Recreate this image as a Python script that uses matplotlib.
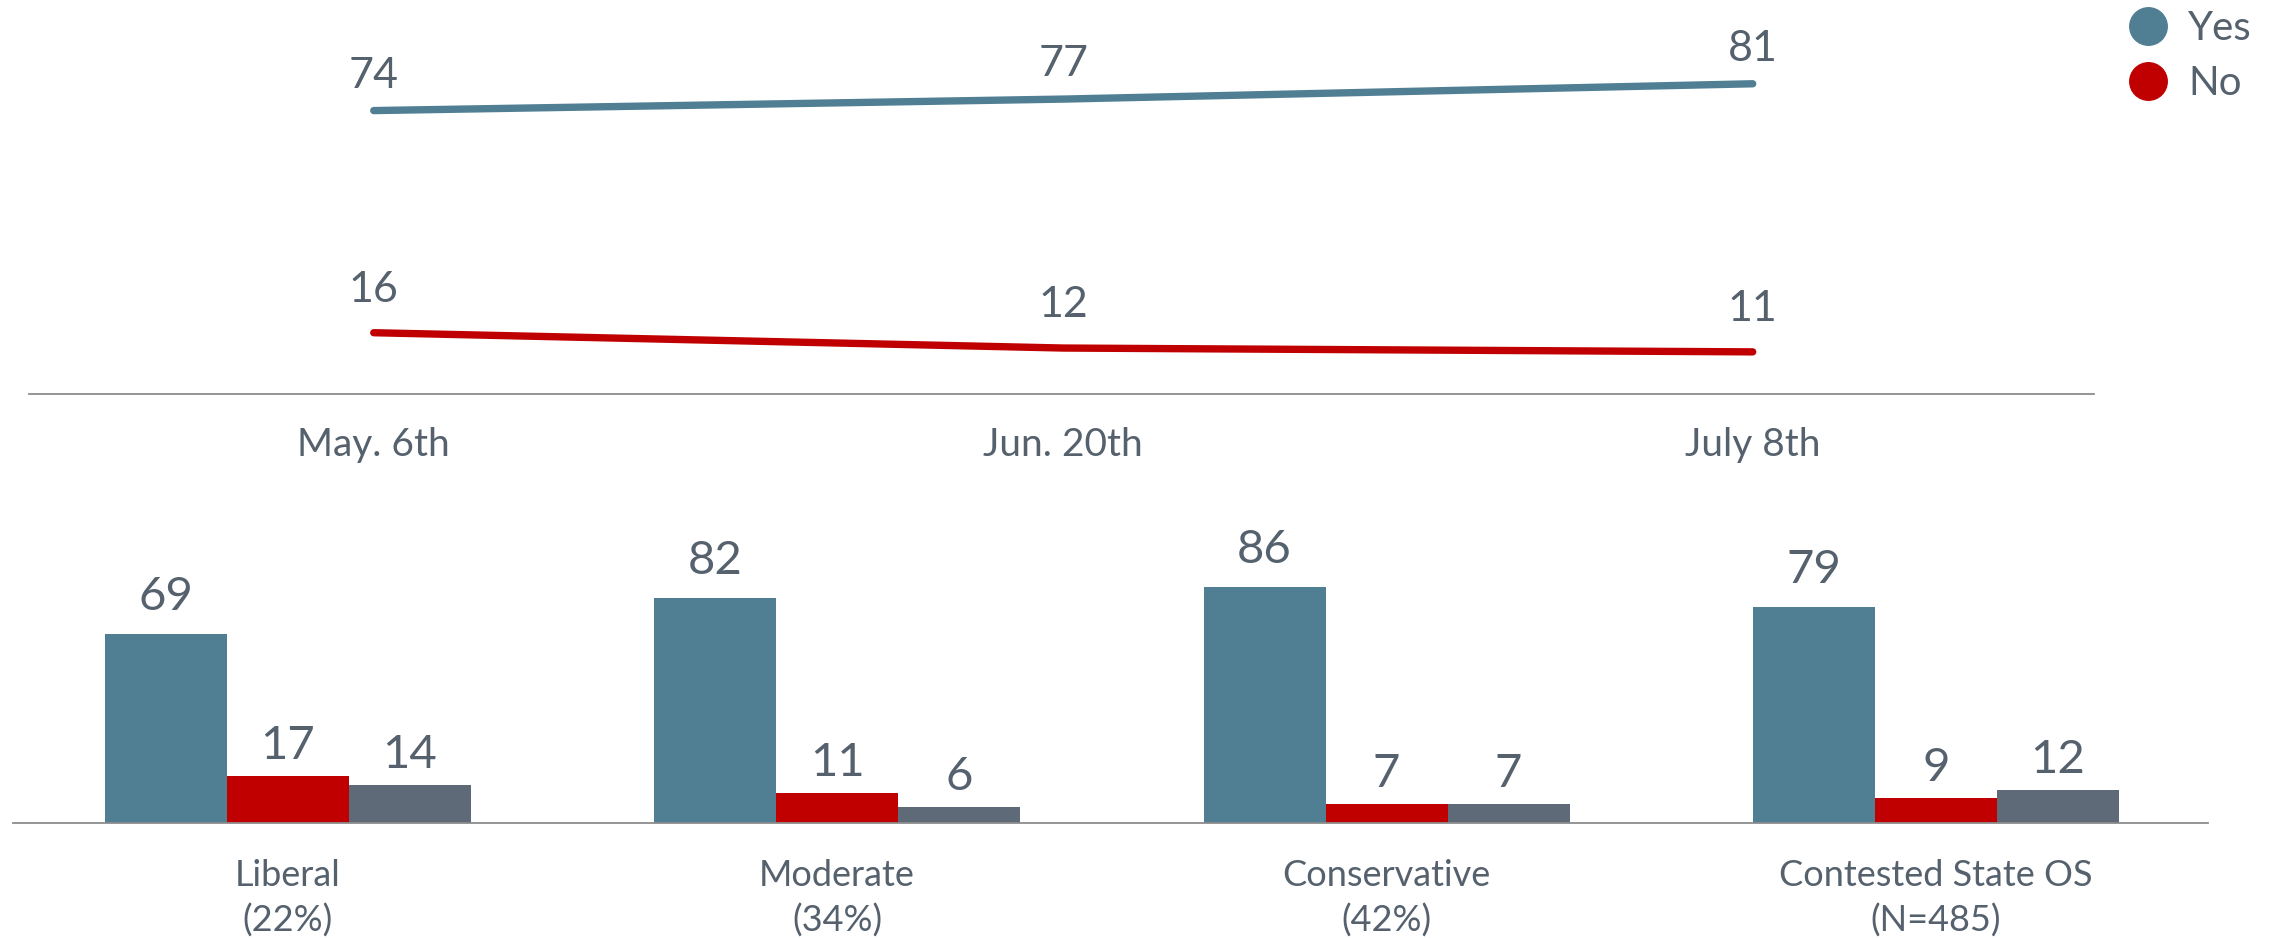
import matplotlib
matplotlib.use("Agg")
import matplotlib.pyplot as plt
from matplotlib.lines import Line2D
import numpy as np

# top: trend over time
dates = ["May. 6th", "Jun. 20th", "July 8th"]
yes_trend = [74, 77, 81]
no_trend = [16, 12, 11]

# bottom: by ideology
groups = ["Liberal\n(22%)", "Moderate\n(34%)", "Conservative\n(42%)", "Contested State OS\n(N=485)"]
yes_vals = [69, 82, 86, 79]
no_vals = [17, 11, 7, 9]
unsure_vals = [14, 6, 7, 12]

c_yes = "#507f93"
c_no = "#c00000"
c_unsure = "#5f6a78"
c_text = "#56616e"
c_axis = "#8c8c8c"

plt.rcParams['font.family'] = ['Lato', 'DejaVu Sans']

W, H = 2275, 938
fig = plt.figure(figsize=(W / 100, H / 100), dpi=100)


def rect(l, t, r, b):
    return [l / W, 1 - b / H, (r - l) / W, (b - t) / H]


def clean(ax):
    for s in ['top', 'right', 'left']:
        ax.spines[s].set_visible(False)
    ax.spines['bottom'].set_color(c_axis)
    ax.spines['bottom'].set_linewidth(1.3)
    ax.set_yticks([])
    ax.tick_params(axis='x', length=0, colors=c_text)


# ---- line chart ----
ax1 = fig.add_axes(rect(29, 0, 2094, 394))
clean(ax1)
x = np.arange(len(dates))
ax1.plot(x, yes_trend, color=c_yes, lw=5.3, solid_capstyle='round')
ax1.plot(x, no_trend, color=c_no, lw=5.3, solid_capstyle='round')
for xi, v in zip(x, yes_trend):
    ax1.annotate(str(v), (xi, v), xytext=(0, 23), textcoords='offset pixels',
                 ha='center', va='baseline', fontsize=31, color=c_text)
for xi, v in zip(x, no_trend):
    ax1.annotate(str(v), (xi, v), xytext=(0, 31), textcoords='offset pixels',
                 ha='center', va='baseline', fontsize=31, color=c_text)
ax1.set_xlim(-0.5, 2.495)
ax1.set_ylim(0, 394 / 3.83)
ax1.set_xticks(x)
ax1.set_xticklabels(dates, fontsize=28)
ax1.tick_params(axis='x', pad=24)

# ---- bar chart ----
ax2 = fig.add_axes(rect(13, 549, 2208, 823))
clean(ax2)
gx = np.arange(len(groups))
w = 0.222
series = [(yes_vals, c_yes, -w, 24), (no_vals, c_no, 0, 17), (unsure_vals, c_unsure, w, 17)]
for vals, col, off, gap in series:
    bars = ax2.bar(gx + off, vals, width=w, color=col)
    for b, v in zip(bars, vals):
        ax2.annotate(str(v), (b.get_x() + b.get_width() / 2, v), xytext=(0, gap),
                     textcoords='offset pixels', ha='center', va='baseline',
                     fontsize=34, color=c_text)
ax2.set_xlim(-0.5, 3.495)
ax2.set_ylim(0, 100)
ax2.set_xticks(gx)
ax2.set_xticklabels(groups, fontsize=26, linespacing=1.4)
ax2.tick_params(axis='x', pad=26)

# legend
handles = [Line2D([], [], marker='o', ls='', ms=27, color=c_yes),
           Line2D([], [], marker='o', ls='', ms=27, color=c_no)]
leg = fig.legend(handles, ["Yes", "No"], loc='upper left',
                 bbox_to_anchor=(2128 / W, 1 - 10 / H), frameon=False,
                 fontsize=29, handlelength=1, handletextpad=0.5,
                 borderpad=0, borderaxespad=0, labelspacing=0.45)
for t in leg.get_texts():
    t.set_color(c_text)

fig.savefig("out.png", dpi=100)
